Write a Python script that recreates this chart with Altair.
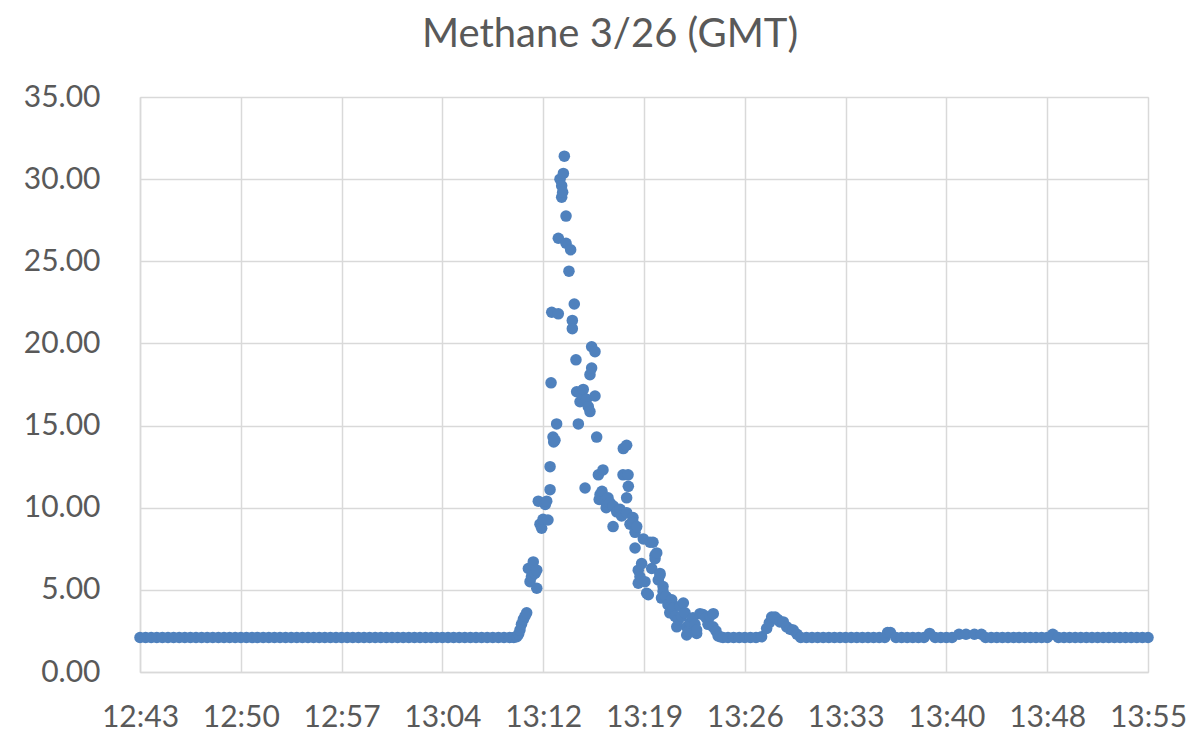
import altair as alt
import pandas as pd

# ---- data (minutes after 12:43 GMT, methane ppm) ----
pre_minutes = [0.0, 0.4, 0.8, 1.2, 1.6, 2.0, 2.4, 2.8, 3.2, 3.6, 4.0, 4.4, 4.8, 5.2, 5.6,
               6.0, 6.4, 6.8, 7.2, 7.6, 8.0, 8.4, 8.8, 9.2, 9.6, 10.0, 10.4, 10.8, 11.2,
               11.6, 12.0, 12.4, 12.8, 13.2, 13.6, 14.0, 14.4, 14.8, 15.2, 15.6, 16.0,
               16.4, 16.8, 17.2, 17.6, 18.0, 18.4, 18.8, 19.2, 19.6, 20.0, 20.4, 20.8,
               21.2, 21.6, 22.0, 22.4, 22.8, 23.2, 23.6, 24.0, 24.4, 24.8, 25.2, 25.6,
               26.0, 26.4, 26.7]
pre_ppm = [2.1, 2.1, 2.1, 2.1, 2.1, 2.1, 2.1, 2.1, 2.1, 2.1, 2.1, 2.1, 2.1, 2.1, 2.1,
           2.1, 2.1, 2.1, 2.1, 2.1, 2.1, 2.1, 2.1, 2.1, 2.1, 2.1, 2.1, 2.1, 2.1,
           2.1, 2.1, 2.1, 2.1, 2.1, 2.1, 2.1, 2.1, 2.1, 2.1, 2.1, 2.1,
           2.1, 2.1, 2.1, 2.1, 2.1, 2.1, 2.1, 2.1, 2.1, 2.1, 2.1, 2.1,
           2.1, 2.1, 2.1, 2.1, 2.1, 2.1, 2.1, 2.1, 2.1, 2.1, 2.1, 2.1,
           2.1, 2.1, 2.1]

event_minutes = [26.91, 27.04, 27.14, 27.25, 27.38, 27.50, 27.62, 27.74, 27.86, 27.96,
                 28.09, 28.21, 28.34, 28.34, 28.45, 28.57, 28.69, 28.79, 28.95, 29.05,
                 29.14, 29.29, 29.29, 29.36, 29.41, 29.50, 29.55, 29.64, 29.76, 29.88,
                 29.88, 30.00, 30.12, 30.12, 30.19, 30.24, 30.31, 30.43, 30.43, 30.64,
                 30.76, 30.88, 30.88, 31.02, 31.14, 31.19, 31.31, 31.43, 31.55, 31.66,
                 31.79, 31.90, 32.02, 32.14, 32.14, 32.26, 32.26, 32.50, 32.50, 32.62,
                 32.74, 32.80, 32.86, 33.00, 33.07, 33.21, 33.30, 33.43, 33.57, 33.79,
                 33.81, 34.05, 34.29, 34.40, 34.50, 34.52, 34.76, 34.76, 34.76, 34.86,
                 34.88, 35.00, 35.21, 35.21, 35.36, 35.36, 35.48, 35.59, 35.59, 35.71,
                 35.83, 35.95, 36.07, 36.19, 36.31, 36.43, 36.55, 36.64, 36.79, 36.79,
                 36.91, 37.02, 37.14, 37.14, 37.25, 37.36, 37.36, 37.57, 37.71, 37.84,
                 37.98, 38.10, 38.21, 38.34, 38.45, 38.57, 38.69, 38.81, 38.93, 39.05,
                 39.05, 39.17, 39.29, 39.50, 39.64, 39.76, 39.76, 40.00, 40.21, 40.43,
                 40.57, 40.71, 40.93, 40.95, 41.14, 41.29, 41.43, 41.64, 42.0, 42.4,
                 42.8, 43.2, 43.6, 44.0, 44.4, 44.76, 44.95, 45.12, 45.36, 45.55,
                 45.71, 45.95, 46.19, 46.43, 46.66, 46.93]
event_ppm = [2.15, 2.3, 2.55, 2.9, 3.2, 3.4, 3.6, 6.3, 5.5, 5.8,
             6.7, 6.0, 6.2, 5.1, 10.4, 9.0, 8.75, 9.3, 10.2, 10.4,
             9.25, 12.5, 11.1, 17.6, 21.9, 14.3, 14.0, 14.1, 15.1, 21.8,
             26.4, 30.0, 29.6, 28.9, 29.2, 30.35, 31.4, 27.75, 26.1, 24.4,
             25.7, 21.4, 20.9, 22.4, 19.0, 17.06, 15.1, 16.45, 16.9, 17.2,
             11.2, 16.6, 16.15, 15.85, 18.1, 18.5, 19.8, 19.5, 16.8, 14.3,
             12.0, 10.5, 10.8, 11.0, 12.3, 10.4, 10.0, 10.6, 10.3, 8.85,
             10.1, 9.75, 9.9, 9.5, 12.0, 13.6, 13.8, 10.6, 9.7, 12.0,
             11.3, 9.0, 9.4, 9.1, 8.5, 7.55, 8.85, 6.2, 5.4, 5.8,
             6.6, 8.1, 5.5, 4.8, 4.7, 7.9, 6.3, 7.9, 7.1, 6.9,
             7.25, 5.6, 6.0, 5.9, 4.5, 5.2, 4.9, 4.6, 4.1, 3.6,
             4.4, 3.9, 3.4, 2.75, 3.2, 4.0, 3.4, 4.2, 3.6, 2.75,
             2.25, 2.5, 3.0, 3.3, 2.9, 2.35, 2.55, 3.55, 3.5, 3.3,
             2.9, 3.4, 2.75, 3.55, 2.5, 2.2, 2.15, 2.1, 2.1, 2.1,
             2.1, 2.1, 2.1, 2.1, 2.15, 2.65, 3.0, 3.35, 3.35, 3.2,
             3.05, 3.05, 2.75, 2.6, 2.55, 2.3]

post_minutes = [47.2, 47.6, 48.0, 48.4, 48.8, 49.2, 49.6, 50.0, 50.4, 50.8, 51.2, 51.6,
                52.0, 52.4, 52.8, 53.2, 53.4, 53.6, 54.0, 54.4, 54.8, 55.2, 55.6, 56.0,
                56.4, 56.8, 57.2, 57.6, 58.0, 58.5, 59.0, 59.6, 60.1, 60.4, 60.8, 61.2,
                61.6, 62.0, 62.4, 62.8, 63.2, 63.6, 64.0, 64.4, 64.8, 65.2, 65.6, 66.0,
                66.4, 66.8, 67.2, 67.6, 68.0, 68.4, 68.8, 69.2, 69.6, 70.0, 70.4, 70.8,
                71.2, 71.6, 72.0]
post_ppm = [2.1, 2.1, 2.1, 2.1, 2.1, 2.1, 2.1, 2.1, 2.1, 2.1, 2.1, 2.1,
            2.1, 2.1, 2.1, 2.1, 2.4, 2.4, 2.1, 2.1, 2.1, 2.1, 2.1, 2.1,
            2.35, 2.1, 2.1, 2.1, 2.1, 2.3, 2.3, 2.3, 2.3, 2.1, 2.1, 2.1,
            2.1, 2.1, 2.1, 2.1, 2.1, 2.1, 2.1, 2.1, 2.1, 2.3, 2.1, 2.1,
            2.1, 2.1, 2.1, 2.1, 2.1, 2.1, 2.1, 2.1, 2.1, 2.1, 2.1, 2.1,
            2.1, 2.1, 2.1]

x_tick_minutes = [0, 7.2, 14.4, 21.6, 28.8, 36, 43.2, 50.4, 57.6, 64.8, 72]
x_tick_labels = ["12:43", "12:50", "12:57", "13:04", "13:12", "13:19",
                 "13:26", "13:33", "13:40", "13:48", "13:55"]
y_ticks = [0, 5, 10, 15, 20, 25, 30, 35]
chart_title = ["Methane 3/26 (GMT)"]

df = pd.DataFrame({
    "minutes": pre_minutes + event_minutes + post_minutes,
    "ppm": pre_ppm + event_ppm + post_ppm,
})
title_df = pd.DataFrame({"title": chart_title})

TEXT = "#595959"
GRID = "#d9d9d9"
FONT = "Lato"

label_expr = "[" + ",".join('"%s"' % s for s in x_tick_labels) + "][round(datum.value / 7.2)]"

points = (
    alt.Chart(df)
    .mark_circle(size=133, color="#4f81bd", opacity=1)
    .encode(
        x=alt.X("minutes:Q",
                scale=alt.Scale(domain=[0, 72], nice=False, zero=False),
                axis=alt.Axis(values=x_tick_minutes, labelExpr=label_expr, title=None,
                              grid=True, gridColor=GRID, gridWidth=1.5,
                              domainColor=GRID, domainWidth=1.5, ticks=False,
                              labelPadding=30, labelFont=FONT, labelFontSize=30,
                              labelColor=TEXT, labelFlush=False, labelOverlap=False)),
        y=alt.Y("ppm:Q",
                scale=alt.Scale(domain=[0, 35], nice=False),
                axis=alt.Axis(values=y_ticks, format=".2f", title=None,
                              grid=True, gridColor=GRID, gridWidth=1.5,
                              domainColor=GRID, domainWidth=1.5, ticks=False,
                              labelPadding=40, labelFont=FONT, labelFontSize=30,
                              labelColor=TEXT, labelFlush=False, labelOverlap=False)),
    )
)

title_text = (
    alt.Chart(title_df)
    .mark_text(font=FONT, fontSize=40, color=TEXT, align="center",
               baseline="alphabetic")
    .encode(text="title:N", x=alt.value(470), y=alt.value(-50))
)

chart = (
    alt.layer(points, title_text)
    .properties(
        width=1008,
        height=575,
        autosize=alt.AutoSizeParams(type="none"),
        padding={"left": 132, "top": 89, "right": 42, "bottom": 61},
    )
    .configure_view(stroke=None)
    .configure(background="white")
)

chart.save("out.html", embed_options={"renderer": "svg", "actions": False})
